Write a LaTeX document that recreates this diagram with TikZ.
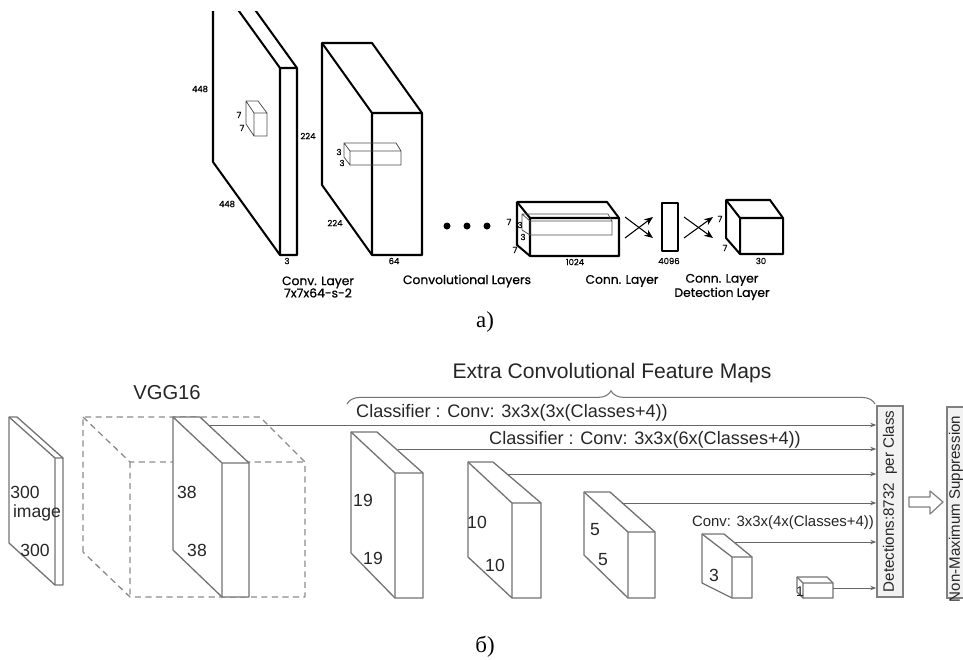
\documentclass[tikz,border=0pt]{standalone}
\usepackage{fontspec}
\setmainfont{Liberation Sans}
\newfontfamily\gothic{Poppins}[FakeBold=0.7]
\newfontfamily\serifcyr{Liberation Serif}
\usetikzlibrary{arrows.meta, decorations.pathreplacing, calc}

\begin{document}
\begin{tikzpicture}[
    x=0.02cm, y=-0.02cm,
    dim/.style={font=\gothic\fontsize{4.8}{5}\selectfont, inner sep=0pt},
    capt/.style={font=\gothic\fontsize{7}{7}\selectfont, align=center, inner sep=0pt},
    num/.style={font=\fontsize{10}{12}\selectfont, text=black!85, inner sep=0pt},
    lab/.style={font=\fontsize{10.3}{12}\selectfont, text=black!85, inner sep=0pt},
    part/.style={font=\serifcyr\fontsize{13}{15}\selectfont, inner sep=0pt},
    heavy/.style={line width=1.15pt, line join=round},
    light/.style={line width=0.45pt, black!70},
    slab/.style={line width=0.75pt, black!55, line join=round},
    feed/.style={line width=0.55pt, black!60, -{Stealth[length=3.5pt, width=2.5pt]}},
    xarrow/.style={line width=0.6pt, -{Stealth[length=5pt, width=4pt]}},
    panel/.style={draw=black!50, fill=black!5, line width=0.75pt, inner sep=0pt}
]
\useasboundingbox (0,0) rectangle (963,659);
\clip (0,0) rectangle (963,659);

% a) first conv layer
\begin{scope}
\clip (0,11) rectangle (963,659);
\draw[heavy] (213,162) -- (213,-25) -- (230,-25) -- (297,68) -- (297,255) -- (280,255) -- cycle;
\draw[heavy] (213,-25) -- (280,68) -- (297,68) (280,68) -- (280,255);
\end{scope}
\draw[light] (254,113) rectangle (267,136) (246,124) -- (246,101) -- (258,101) -- (267,113)
    (246,101) -- (254,113) (246,124) -- (254,136);
\node[dim] (in448a) at (200,89) {448};
\node[dim] (in448b) at (227,204) {448};
\node[dim] (in3) at (287,261) {3};
\node[dim] (k7a) at (239,115) {7};
\node[dim] (k7b) at (242,128) {7};

% second layer
\draw[heavy] (322,185) -- (322,43) -- (372,43) -- (422,113) -- (422,255) -- (372,255) -- cycle;
\draw[heavy] (322,43) -- (372,113) -- (422,113) (372,113) -- (372,255);
\draw[light] (350,151) rectangle (401,165) (344,157) -- (344,143) -- (396,143) -- (401,151)
    (344,143) -- (350,151) (344,157) -- (350,165);
\node[dim] (c224a) at (308,136) {224};
\node[dim] (c224b) at (335,223) {224};
\node[dim] (c64) at (394,261) {64};
\node[dim] (k3a) at (339,152) {3};
\node[dim] (k3b) at (342,163) {3};

% dots
\fill (447,226) circle [radius=3.5];
\fill (467,226) circle [radius=3.5];
\fill (487,226) circle [radius=3.5];

% last conv block
\draw[heavy] (517,245) -- (517,202) -- (607,202) -- (619,218) -- (619,256) -- (530,256) -- cycle;
\draw[heavy] (517,202) -- (530,218) -- (619,218) (530,218) -- (530,256);
\draw[light] (530,221) rectangle (612,235) (522,230) -- (522,214) -- (608,214) -- (612,221)
    (522,214) -- (530,221) (522,230) -- (530,235);
\node[dim] (b7a) at (509,222) {7};
\node[dim] (b3a) at (520,225) {3};
\node[dim] (b3b) at (523,237) {3};
\node[dim] (b7b) at (515,250) {7};
\node[dim] (b1024) at (575,262) {1024};

% fully connected
\node[draw, heavy, minimum width=0.32cm, minimum height=0.96cm, inner sep=0pt] (fc) at (670,227) {};
\node[dim] (fc4096) at (669,261) {4096};
\coordinate (xa1) at (625,217); \coordinate (xa2) at (653,238);
\coordinate (xb1) at (625,238); \coordinate (xb2) at (653,217);
\coordinate (xc1) at (684,217); \coordinate (xc2) at (713,238);
\coordinate (xd1) at (684,238); \coordinate (xd2) at (713,217);
\draw[xarrow] (xa1) -- (xa2);
\draw[xarrow] (xb1) -- (xb2);
\draw[xarrow] (xc1) -- (xc2);
\draw[xarrow] (xd1) -- (xd2);

% output cube
\draw[heavy] (726,238) -- (726,200) -- (770,200) -- (783,218) -- (783,254) -- (740,254) -- cycle;
\draw[heavy] (726,200) -- (740,218) -- (783,218) (740,218) -- (740,254);
\node[dim] (o7a) at (720,219) {7};
\node[dim] (o7b) at (725,248) {7};
\node[dim] (o30) at (761,261) {30};

\node[capt] (cap1) at (318,287) {Conv. Layer\\7x7x64-s-2};
\node[capt] (cap2) at (467,281) {Convolutional Layers};
\node[capt] (cap3) at (622,281) {Conn. Layer};
\node[capt] (cap4) at (722,287) {Conn. Layer\\Detection Layer};
\node[part] (parta) at (485,322) {а)};

% b) input image
\draw[slab] (9,543) -- (9,417) -- (17,417) -- (63,458) -- (63,585) -- (55,585) -- cycle;
\draw[slab] (9,417) -- (55,458) -- (63,458) (55,458) -- (55,585);
\node[num] (img300a) at (25,492) {300};
\node[num] (img) at (37,513) {image};
\node[num] (img300b) at (35,550) {300};

% VGG16 block
\draw[slab, black!45, dash pattern=on 3.5pt off 2.5pt] (83,552) -- (83,417) -- (260,417) -- (305,462) -- (305,597) -- (130,597) -- cycle;
\draw[slab, black!45, dash pattern=on 3.5pt off 2.5pt] (83,417) -- (130,462) -- (305,462) (130,462) -- (130,597);
\node[font=\fontsize{11.5}{13}\selectfont, text=black!85] (vgg) at (167,393) {VGG16};
\filldraw[slab, fill=white] (173,550) -- (173,417) -- (200,417) -- (249,463) -- (249,597) -- (222,597) -- cycle;
\draw[slab] (173,417) -- (222,463) -- (249,463) (222,463) -- (222,597);
\node[num] (m38a) at (187,492) {38};
\node[num] (m38b) at (197,550) {38};

% extra feature maps
\filldraw[slab, fill=white] (351,553) -- (351,432) -- (377,432) -- (423,473) -- (423,598) -- (395,598) -- cycle;
\draw[slab] (351,432) -- (395,473) -- (423,473) (395,473) -- (395,598);
\node[num] (m19a) at (363,500) {19};
\node[num] (m19b) at (373,558) {19};

\filldraw[slab, fill=white] (468,557) -- (468,462) -- (493,462) -- (541,503) -- (541,598) -- (512,598) -- cycle;
\draw[slab] (468,462) -- (512,503) -- (541,503) (512,503) -- (512,598);
\node[num] (m10a) at (477,522) {10};
\node[num] (m10b) at (495,565) {10};

\filldraw[slab, fill=white] (584,555) -- (584,492) -- (610,492) -- (655,532) -- (655,598) -- (628,598) -- cycle;
\draw[slab] (584,492) -- (628,532) -- (655,532) (628,532) -- (628,598);
\node[num] (m5a) at (595,530) {5};
\node[num] (m5b) at (603,560) {5};

\filldraw[slab, fill=white] (702,583) -- (702,534) -- (724,534) -- (752,557) -- (752,598) -- (732,598) -- cycle;
\draw[slab] (702,534) -- (732,557) -- (752,557) (732,557) -- (732,598);
\node[num] (m3) at (714,575) {3};

\filldraw[slab, fill=white] (797,592) -- (797,577) -- (827,577) -- (833,583) -- (833,598) -- (803,598) -- cycle;
\draw[slab] (797,577) -- (803,583) -- (833,583) (803,583) -- (803,598);
\node[num, font=\fontsize{8}{9}\selectfont] (m1) at (800,592) {1};

% detections and suppression
\node[panel, minimum width=0.52cm, minimum height=3.82cm] (det) at (890,501.5) {};
\node[rotate=90, font=\fontsize{8.6}{10}\selectfont, text=black!85] (detlab) at (det) {Detections:8732~~per Class};
\node[panel, minimum width=0.76cm, minimum height=3.82cm] (nms) at (966,502.5) {};
\node[rotate=90, font=\fontsize{8.6}{10}\selectfont, text=black!85] (nmslab) at (956,509) {Non-Maximum Suppression};
\filldraw[black!50, fill=white, line width=0.7pt, line join=round] (909,497) -- (930,497) -- (930,491) -- (943,502) -- (930,514) -- (930,507) -- (909,507) -- cycle;

\coordinate (s38) at (209,425);
\coordinate (s19) at (398,449);
\coordinate (s10) at (508,474);
\coordinate (s5) at (622,503);
\coordinate (s3) at (735,542);
\coordinate (s1) at (833,588);
\draw[feed] (s38) -- (s38 -| det.west);
\draw[feed] (s19) -- (s19 -| det.west);
\draw[feed] (s10) -- (s10 -| det.west);
\draw[feed] (s5) -- (s5 -| det.west);
\draw[feed] (s3) -- (s3 -| det.west);
\draw[feed] (s1) -- (s1 -| det.west);

\node[lab] (cls1) at (512,413) {Classifier : Conv: 3x3x(3x(Classes+4))};
\node[lab] (cls2) at (645,440) {Classifier : Conv: 3x3x(6x(Classes+4))};
\node[lab, font=\fontsize{8.5}{10}\selectfont] (cls3) at (783,523) {Conv: 3x3x(4x(Classes+4))};

\draw[black!55, line width=0.6pt, decorate, decoration={brace, amplitude=7.5pt}] (347,404) -- (875,404);
\node[font=\fontsize{12}{14}\selectfont, text=black!85] (extra) at (612,373) {Extra Convolutional Feature Maps};
\node[part] (partb) at (485,647) {б)};
\end{tikzpicture}
\end{document}
